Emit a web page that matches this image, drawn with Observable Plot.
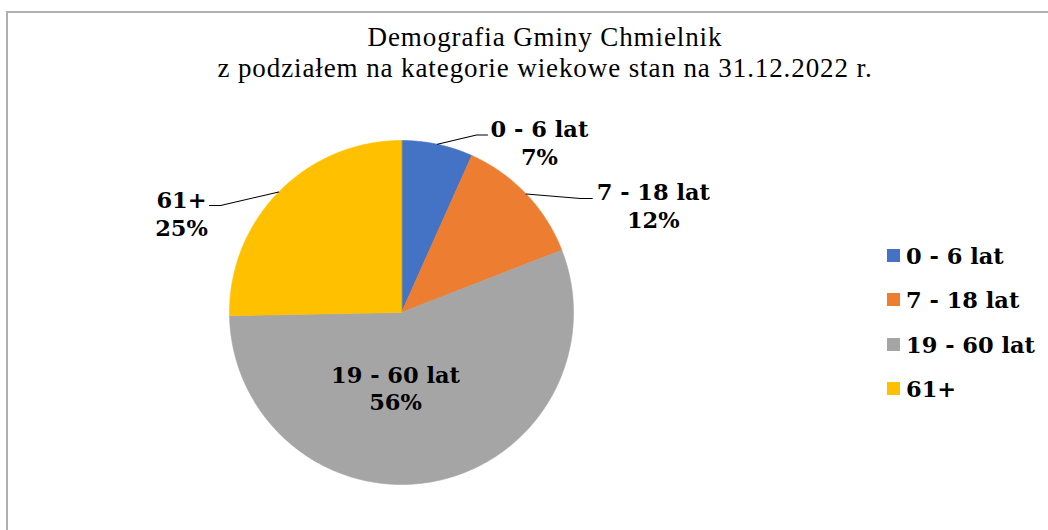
<!DOCTYPE html>
<html><head><meta charset="utf-8">
<script src="https://cdn.jsdelivr.net/npm/d3@7"></script>
<script src="https://cdn.jsdelivr.net/npm/@observablehq/plot@0.6"></script>
<style>
body{margin:0;background:#fff;width:1048px;height:530px;overflow:hidden;position:relative}
#frame{position:absolute;left:6px;top:11px;width:1200px;height:700px;border:2px solid #b0b0b0;box-sizing:border-box}
#title{position:absolute;left:0;top:21.8px;width:1090px;text-align:center;font-family:"Liberation Serif","Times New Roman",serif;font-size:27px;letter-spacing:0.9px;line-height:31.6px;color:#000}
#chart{position:absolute;left:0;top:0}
.leg{position:absolute;left:887px;font-family:"DejaVu Serif",serif;font-weight:bold;font-size:22.5px;line-height:22.5px;color:#000;white-space:nowrap}
.leg .sw{position:absolute;left:0;width:13px;height:13px}
.leg .tx{position:absolute;left:19px}
</style>
</head><body>
<div id="frame"></div>
<div id="chart"></div>
<div id="title">Demografia Gminy Chmielnik<br>z podziałem na kategorie wiekowe stan na 31.12.2022 r.</div>
<div id="legend"></div>
<script>
// data
const categories = ["0 - 6 lat", "7 - 18 lat", "19 - 60 lat", "61+"];
const shares = [6.7, 12.4, 55.6, 25.3];
const colors = ["#4472C4", "#ED7D31", "#A5A5A5", "#FFC000"];

// label layout (pie-radius units, centre = 0,0)
const labelX = [0.802, 1.464, -0.035, -1.279];
const labelY = [0.990, 0.623, -0.436, 0.577];
const elbowX = [0.436, 1.041, null, -1.052];
const elbowY = [1.032, 0.663, null, 0.622];
const endX = [0.500, 1.109, null, -1.116];

const total = d3.sum(shares);
const arcs = d3.pie().sort(null).value(d => d)(shares);

// slice polygons
const slicePts = [];
arcs.forEach((a, i) => {
  const n = Math.max(4, Math.ceil((a.endAngle - a.startAngle) / (Math.PI / 360)));
  slicePts.push({cat: categories[i], x: 0, y: 0});
  for (let k = 0; k <= n; k++) {
    const t = a.startAngle + (a.endAngle - a.startAngle) * k / n;
    slicePts.push({cat: categories[i], x: Math.sin(t), y: Math.cos(t)});
  }
});

// leader lines
const leaderPts = [];
arcs.forEach((a, i) => {
  if (elbowX[i] == null) return;
  const m = (a.startAngle + a.endAngle) / 2;
  leaderPts.push({cat: categories[i], x: Math.sin(m), y: Math.cos(m)});
  leaderPts.push({cat: categories[i], x: elbowX[i], y: elbowY[i]});
  leaderPts.push({cat: categories[i], x: endX[i], y: elbowY[i]});
});

const labels = categories.map((c, i) => ({
  cat: c, x: labelX[i], y: labelY[i],
  text: c + "\n" + Math.round(shares[i] / total * 100) + "%"
}));

const plot = Plot.plot({
  width: 1048, height: 530,
  marginLeft: 229, marginRight: 475, marginTop: 140, marginBottom: 46,
  x: {domain: [-1, 1], axis: null},
  y: {domain: [-1, 1], axis: null},
  color: {domain: categories, range: colors},
  style: {background: "transparent", fontFamily: "DejaVu Serif", overflow: "visible"},
  marks: [
    Plot.line(slicePts, {x: "x", y: "y", z: "cat", fill: "cat", stroke: "cat", strokeWidth: 0.6, curve: "linear-closed"}),
    Plot.line(leaderPts, {x: "x", y: "y", z: "cat", stroke: "#000", strokeWidth: 1.1}),
    Plot.text(labels, {x: "x", y: "y", text: "text", fontSize: 22.5, fontWeight: "bold", lineHeight: 1.22, fill: "#000"})
  ]
});
document.getElementById("chart").appendChild(plot);

// legend
const leg = document.getElementById("legend");
categories.forEach((c, i) => {
  const row = document.createElement("div");
  row.className = "leg";
  row.style.top = (245 + i * 44.3) + "px";
  row.innerHTML = `<div class="sw" style="background:${colors[i]};top:4px"></div><div class="tx">${c}</div>`;
  leg.appendChild(row);
});
</script>
</body></html>
